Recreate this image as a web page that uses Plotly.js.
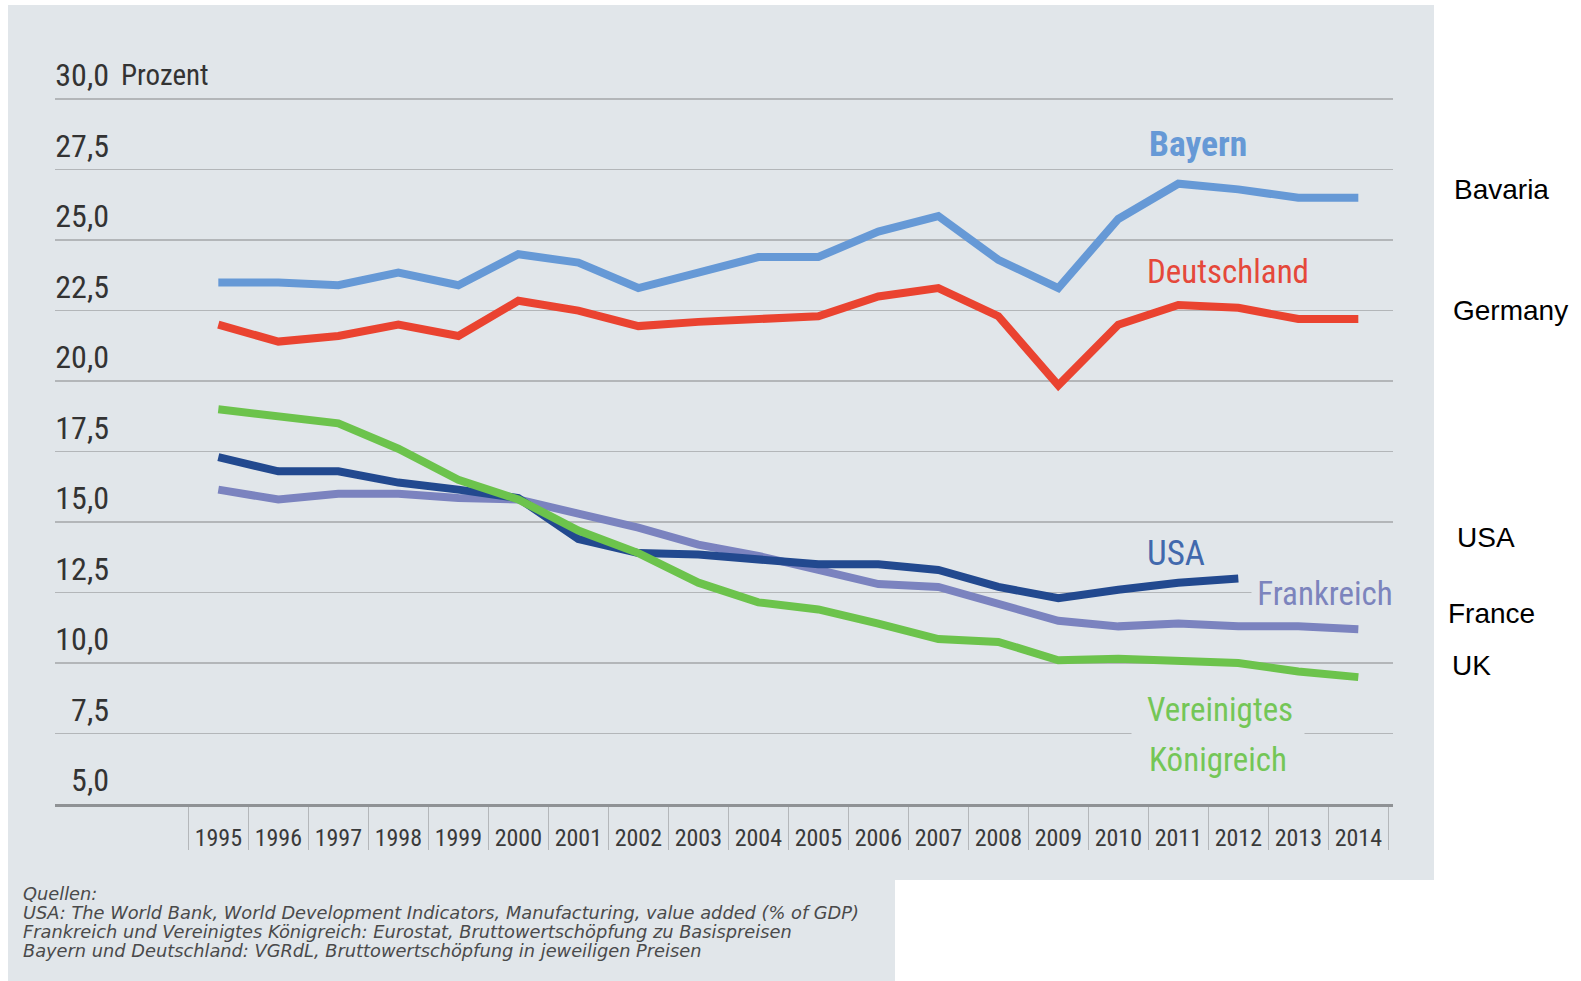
<!DOCTYPE html>
<html>
<head>
<meta charset="utf-8">
<script src="https://cdn.plot.ly/plotly-3.0.1.min.js"></script>
<style>
  html, body { margin: 0; padding: 0; background: #ffffff; }
  #chart { width: 1581px; height: 981px; }
</style>
</head>
<body>
<div id="chart"></div>
<script>
// ---------------- data ----------------
const years = [1995, 1996, 1997, 1998, 1999, 2000, 2001, 2002, 2003, 2004,
               2005, 2006, 2007, 2008, 2009, 2010, 2011, 2012, 2013, 2014];
const usaYears = [1995, 1996, 1997, 1998, 1999, 2000, 2001, 2002, 2003, 2004,
                  2005, 2006, 2007, 2008, 2009, 2010, 2011, 2012];

const bayern      = [23.5, 23.5, 23.4, 23.85, 23.4, 24.5, 24.2, 23.3, 23.85, 24.4,
                     24.4, 25.3, 25.85, 24.3, 23.3, 25.75, 27.0, 26.8, 26.5, 26.5];
const deutschland = [22.0, 21.4, 21.6, 22.0, 21.6, 22.85, 22.5, 21.95, 22.1, 22.2,
                     22.3, 23.0, 23.3, 22.3, 19.85, 22.0, 22.7, 22.6, 22.2, 22.2];
const usa         = [17.3, 16.8, 16.8, 16.4, 16.15, 15.85, 14.4, 13.9, 13.85, 13.7,
                     13.5, 13.5, 13.3, 12.7, 12.3, 12.6, 12.85, 13.0];
const frankreich  = [16.15, 15.8, 16.0, 16.0, 15.85, 15.8, 15.3, 14.8, 14.2, 13.8,
                     13.3, 12.8, 12.7, 12.1, 11.5, 11.3, 11.4, 11.3, 11.3, 11.2];
const uk          = [19.0, 18.75, 18.5, 17.6, 16.5, 15.8, 14.7, 13.9, 12.85, 12.15,
                     11.9, 11.4, 10.85, 10.75, 10.1, 10.15, 10.1, 10.0, 9.7, 9.5];

const yTickVals = [5, 7.5, 10, 12.5, 15, 17.5, 20, 22.5, 25, 27.5, 30];
const yTickText = ['5,0', '7,5', '10,0', '12,5', '15,0', '17,5', '20,0', '22,5', '25,0', '27,5', '30,0'];

const seriesNames = ['Frankreich', 'USA', 'Vereinigtes Königreich', 'Deutschland', 'Bayern'];
const englishNames = ['Bavaria', 'Germany', 'USA', 'France', 'UK'];
const sourceLines = [
  'Quellen:',
  'USA: The World Bank, World Development Indicators, Manufacturing, value added (% of GDP)',
  'Frankreich und Vereinigtes Königreich: Eurostat, Bruttowertschöpfung zu Basispreisen',
  'Bayern und Deutschland: VGRdL, Bruttowertschöpfung in jeweiligen Preisen'
];

// ---------------- styling ----------------
const NARROW = '"Liberation Sans Narrow", "Roboto Condensed", "DejaVu Sans Condensed", "Arial Narrow", sans-serif';
const ARIAL = '"Liberation Sans", Arial, sans-serif';
const BG = '#e1e6ea';
const C_BAY = '#6699d6', C_DE = '#ea4330', C_USA = '#22498f', C_FR = '#7b83bf', C_UK = '#6cc34c';

// pixel helpers (layout positions only)
const W_PAGE = 1581, H_PAGE = 981;
const M = {l: 55, r: 188, t: 98, b: 177};
const PW = W_PAGE - M.l - M.r, PH = H_PAGE - M.t - M.b;
const px = v => (v - M.l) / PW;
const py = v => (H_PAGE - M.b - v) / PH;

// category boundaries for separator ticks
const bounds = years.map(y => y - 0.5).concat([years[years.length - 1] + 0.5]);
const boundText = years.map(String).concat(['']);

function line(x, y, color, name) {
  return {x: x, y: y, type: 'scatter', mode: 'lines', name: name,
          line: {color: color, width: 8}, hoverinfo: 'skip'};
}

const traces = [
  line(years, frankreich, C_FR, seriesNames[0]),
  line(usaYears, usa, C_USA, seriesNames[1]),
  line(years, uk, C_UK, seriesNames[2]),
  line(years, deutschland, C_DE, seriesNames[3]),
  line(years, bayern, C_BAY, seriesNames[4])
];

function ann(text, xp, yp, size, color, extra) {
  return Object.assign({
    text: text, xref: 'paper', yref: 'paper', x: px(xp), y: py(yp),
    xanchor: 'left', yanchor: 'middle', showarrow: false, borderpad: 0,
    font: {family: NARROW, size: size, color: color}
  }, extra || {});
}

const annotations = [
  ann('Prozent', 120, 75.3, 29, '#333333'),
  ann('Bayern', 1148, 143.7, 35.5, C_BAY, {font: {family: NARROW, size: 35.5, color: C_BAY, weight: 700}}),
  ann('Deutschland', 1146, 271, 33, '#e5483a'),
  ann('USA', 1146, 553.5, 35, '#4269ad'),
  ann('Frankreich', 1325, 593, 33, '#7c84bd', {xanchor: 'center', width: 146, align: 'center', bgcolor: BG, height: 40}),
  ann('Vereinigtes', 1220, 709, 33, '#74c657', {xanchor: 'center'}),
  ann('Königreich', 1218, 758.7, 33, '#74c657', {xanchor: 'center', width: 172, align: 'center', bgcolor: BG, height: 54}),
  // English labels outside the panel
  ann(englishNames[0], 1453, 190, 28, '#000000', {font: {family: ARIAL, size: 28, color: '#000'}}),
  ann(englishNames[1], 1452, 310.5, 28, '#000000', {font: {family: ARIAL, size: 28, color: '#000'}}),
  ann(englishNames[2], 1456, 537, 28, '#000000', {font: {family: ARIAL, size: 28, color: '#000'}}),
  ann(englishNames[3], 1447, 613, 28, '#000000', {font: {family: ARIAL, size: 28, color: '#000'}}),
  ann(englishNames[4], 1451, 665.5, 28, '#000000', {font: {family: ARIAL, size: 28, color: '#000'}})
];
const srcY = [893, 912, 931.4, 950.7];
sourceLines.forEach((t, i) => {
  annotations.push(ann(t, 22, srcY[i], 17.8, '#4a4a4a',
    {font: {family: '"DejaVu Sans", sans-serif', size: 17.8, color: '#4a4a4a', style: 'italic'}}));
});

const shapes = [
  {type: 'rect', xref: 'paper', yref: 'paper', layer: 'below',
   x0: px(8), x1: px(1434), y0: py(880), y1: py(5), fillcolor: BG, line: {width: 0}},
  {type: 'rect', xref: 'paper', yref: 'paper', layer: 'below',
   x0: px(8), x1: px(895), y0: py(981), y1: py(879), fillcolor: BG, line: {width: 0}}
];

const layout = {
  width: W_PAGE, height: H_PAGE, autosize: false,
  margin: {l: M.l, r: M.r, t: M.t, b: M.b, pad: 0},
  paper_bgcolor: '#ffffff', plot_bgcolor: 'rgba(0,0,0,0)',
  showlegend: false, hovermode: false,
  xaxis: {
    type: 'linear', range: [1992.278, 2014.578], fixedrange: true,
    tickmode: 'array', tickvals: bounds, ticktext: boundText,
    ticks: 'outside', ticklen: 43, tickwidth: 1, tickcolor: '#b4b7ba',
    ticklabelshift: 30, ticklabelstandoff: -32,
    tickfont: {family: NARROW, size: 24, color: '#3a3a3a'},
    showgrid: false, zeroline: false,
    showline: true, linecolor: '#8f9295', linewidth: 2.5
  },
  yaxis: {
    range: [5, 30.04], fixedrange: true,
    tickmode: 'array', tickvals: yTickVals, ticktext: yTickText,
    ticks: '', ticklabelstandoff: -55, ticklabelshift: -24,
    tickfont: {family: NARROW, size: 32, color: '#333333'},
    showgrid: true, gridcolor: '#b3b6b9', gridwidth: 1.5,
    zeroline: false, showline: false
  },
  shapes: shapes,
  annotations: annotations
};

Plotly.newPlot('chart', traces, layout, {staticPlot: true, displayModeBar: false});
</script>
</body>
</html>
